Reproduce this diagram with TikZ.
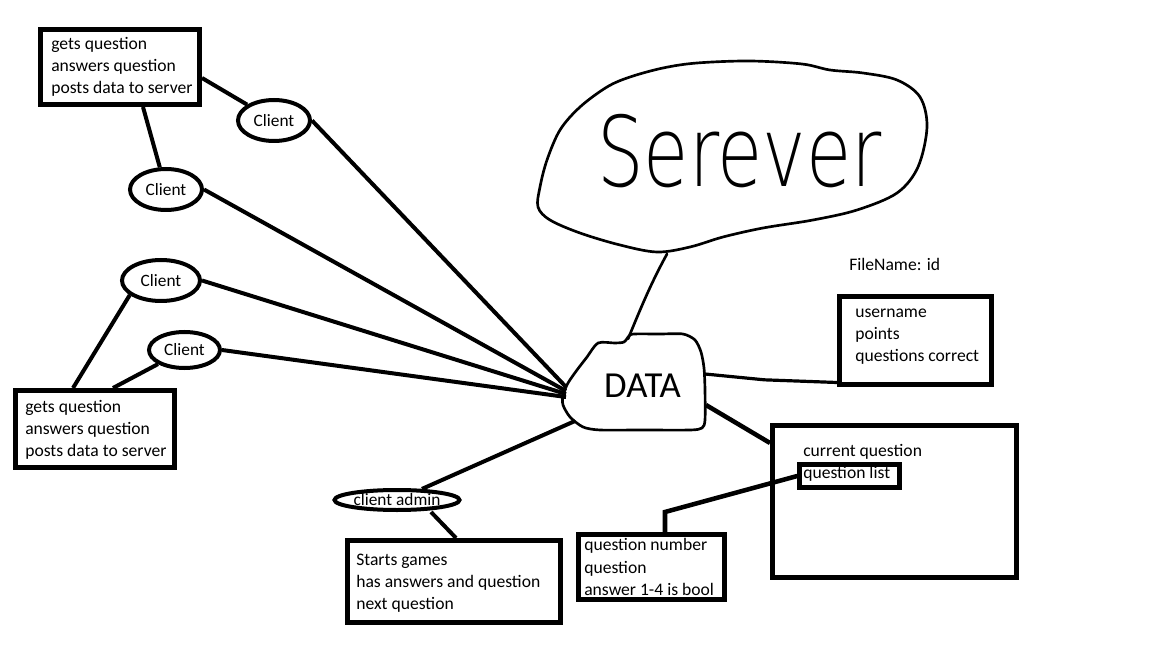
\documentclass[tikz,border=0pt]{standalone}
\usepackage{fontspec}
\setmainfont{Carlito}
\newfontfamily\handfont{DejaVuSans-ExtraLight.ttf}
\usetikzlibrary{calc,shapes.geometric}
\begin{document}
\begin{tikzpicture}[x=0.75pt,y=-0.75pt,
  lbl/.style={font=\fontsize{13.2}{16.6}\selectfont, align=left, inner sep=0pt, anchor=west},
  frame/.style={draw, line width=3.75pt, rectangle, inner sep=0pt},
  cli/.style={draw, ellipse, line width=3pt, inner sep=0pt, font=\fontsize{13}{15}\selectfont},
  conn/.style={line width=3pt},
  thinline/.style={line width=2pt, line join=round, line cap=round}]
\useasboundingbox (0,0) rectangle (1152,648);
\fill[white] (0,0) rectangle (1152,648);

% frames
\node[frame, minimum width=119.25pt, minimum height=56.25pt] (b1) at (120,67) {};
\node[frame, minimum width=119.25pt, minimum height=57.75pt] (b4) at (95,429) {};
\node[frame, minimum width=159.75pt, minimum height=61.5pt] (ab) at (454,581.5) {};
\node[frame, minimum width=109.5pt, minimum height=48.75pt] (qn) at (651.5,567) {};
\node[frame, minimum width=114pt, minimum height=66pt] (ub) at (915.5,340.5) {};
\node[frame, minimum width=183pt, minimum height=114pt] (bb) at (894.5,501.5) {};
\node[frame, line width=3.4pt, minimum width=75pt, minimum height=17.25pt] (ql) at (849.5,476) {};

% texts
\node[lbl] (t1) at (51,67) {gets question\\answers question\\posts data to server};
\node[lbl] (t4) at (25,430) {gets question\\answers question\\posts data to server};
\node[lbl] (ta) at (356,583) {Starts games\\has answers and question\\next question};
\node[lbl] (tq) at (584,567) {question number\\question\\answer 1-4 is bool};
\node[lbl] (tu) at (855,337) {username\\points\\questions correct};
\node[lbl] (fn) at (849,264) {FileName: id};
\node[lbl] (cq) at (803,452) {current question};
\node[lbl] (tl) at (803,474) {question list};

% clients
\node[cli, minimum width=54pt, minimum height=30.75pt] (c1) at (274,120.5) {Client};
\node[cli, minimum width=54pt, minimum height=30.75pt] (c2) at (166,189.5) {Client};
\node[cli, minimum width=58.5pt, minimum height=30.75pt] (c3) at (161,280.5) {Client};
\node[cli, minimum width=53.25pt, minimum height=27pt] (c4) at (184.5,350) {Client};
\node[cli, minimum width=93.75pt, minimum height=15pt] (adm) at (397,500) {client admin};

% DATA blob
\draw[thinline] plot[smooth cycle, tension=0.45] coordinates {(598,343) (615,343) (624,342) (629,336) (634,334) (660,334) (683,334) (695,340) (701,352) (704,368) (705,390) (705,420) (702,428) (690,430) (640,430) (600,430) (583,427) (570,417) (563,405) (563,395) (568,383) (577,370) (587,357)};
\node[font=\fontsize{27.5}{30}\selectfont, inner sep=0pt] (data) at (642.5,386) {DATA};
\coordinate (dl1) at (566,387);
\coordinate (dl2) at (566,391);
\coordinate (dl3) at (566,394);
\coordinate (dl4) at (566,397);
\coordinate (dsw) at (575,421);
\coordinate (de1) at (705,374);
\coordinate (de2) at (706,405);
\coordinate (dt) at (628,339);

% server blob
\draw[thinline] plot[smooth cycle, tension=0.55] coordinates {(802,64) (750,61) (697,63) (663,68) (630,77) (607,87) (580,107) (560,130) (547,160) (540,187) (538,207) (550,220) (580,233) (620,245) (657,252) (690,247) (723,237) (763,228) (813,220) (857,210) (897,193) (918,167) (927,127) (920,97) (897,80) (863,73) (830,70)};
\node[anchor=base west, inner sep=0pt] (srv) at (597,187) {\handfont\fontsize{73}{80}\selectfont\scalebox{0.755}[1]{Serever}};
\coordinate (sb) at (667,254);

% connectors
\draw[conn] ($(b1.east)+(0,11)$) -- (c1);
\draw[conn] ($(b1.south)+(23,0)$) -- (c2);
\draw[conn] (c3.205) -- ($(b4.north)+(-22,0)$);
\draw[conn] (c4) -- ($(b4.north)+(18,0)$);
\draw[conn] (c1.east) -- (dl1);
\draw[conn] (c2.east) -- (dl2);
\draw[conn] (c3.east) -- (dl3);
\draw[conn] (c4.east) -- (dl4);
\draw[conn] (dsw) -- (adm);
\draw[conn] ($(adm.south)+(34,0)$) -- ($(ab.north)+(2,0)$);
\draw[thinline, line width=2.4pt] (de1) -- ($(de1)!0.45!($(ub.south west)+(0,-4.5)$)+(0,2)$) -- ($(ub.south west)+(0,-4.5)$);
\draw[conn, line width=3.4pt] (de2) -- ($(bb.north west)+(0,20)$);
\draw[conn, line width=3.4pt] (ql.west) -- ($(qn.north)+(13.5,-20)$) -- ($(qn.north)+(13.5,0)$);
\draw[thinline] (sb) .. controls (650,285) and (640,310) .. (dt);
\end{tikzpicture}
\end{document}
